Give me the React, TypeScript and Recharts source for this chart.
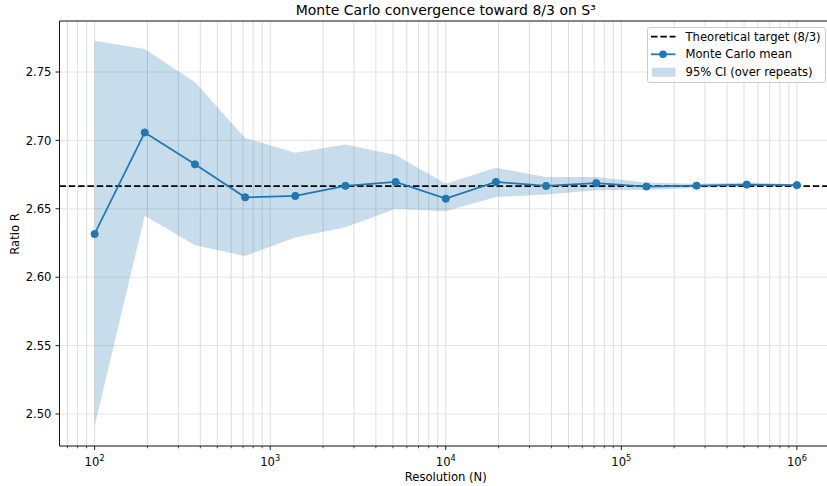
import React from 'react';
import { ComposedChart, Line, Area, XAxis, YAxis, CartesianGrid, ReferenceLine } from 'recharts';

// Resolutions N (log-spaced, 15 values)
const resolutions = [100, 193, 373, 720, 1389, 2683, 5179, 10000, 19307, 37276, 71969, 138950, 268270, 517947, 1000000];
// Monte Carlo mean ratio R
const meanRatio = [2.6316, 2.7058, 2.6825, 2.6584, 2.6594, 2.6668, 2.6696, 2.6574, 2.6696, 2.6667, 2.6688, 2.6663, 2.6669, 2.6677, 2.6673];
// 95% CI bounds (over repeats)
const ciLow = [2.491, 2.645, 2.6233, 2.6155, 2.629, 2.6365, 2.65, 2.6482, 2.6586, 2.6605, 2.6635, 2.6638, 2.6654, 2.666, 2.6665];
const ciHigh = [2.7728, 2.7668, 2.7425, 2.7018, 2.691, 2.697, 2.6893, 2.6684, 2.68, 2.6732, 2.6733, 2.6692, 2.6684, 2.6692, 2.668];

const target = 8 / 3;

const yTicks = [2.5, 2.55, 2.6, 2.65, 2.7, 2.75];
const xMajorTicks = [100, 1000, 10000, 100000, 1000000];
const xMinorTicks = [
  70, 80, 90,
  200, 300, 400, 500, 600, 700, 800, 900,
  2000, 3000, 4000, 5000, 6000, 7000, 8000, 9000,
  20000, 30000, 40000, 50000, 60000, 70000, 80000, 90000,
  200000, 300000, 400000, 500000, 600000, 700000, 800000, 900000,
];
const xTicks = [...xMajorTicks, ...xMinorTicks].sort((a, b) => a - b);
const xDomain = [Math.pow(10, 1.8), Math.pow(10, 6.2)];
const yDomain = [2.4766, 2.7873];

const data = resolutions.map((n, i) => ({
  n,
  mean: meanRatio[i],
  ci: [ciLow[i], ciHigh[i]],
}));

const FONT = 'DejaVu Sans, Verdana, sans-serif';
const BLUE = '#1f77b4';

const XTick = (props: any) => {
  const { x, y, payload } = props;
  const v = payload.value as number;
  const exp = Math.round(Math.log10(v));
  const major = Math.abs(Math.pow(10, exp) - v) < 1e-6 * v;
  return (
    <g>
      <line x1={x} x2={x} y1={y} y2={y + (major ? 4 : 2.3)} stroke="#000" strokeWidth={major ? 0.9 : 0.7} />
      {major && (
        <text x={x} y={y + 20} textAnchor="middle" fontSize={11.6} fontFamily={FONT} fill="#000">
          10
          <tspan fontSize={8.2} dy={-5}>
            {exp}
          </tspan>
        </text>
      )}
    </g>
  );
};

export default function App() {
  return (
    <div style={{ position: 'absolute', left: 0, top: 0, width: 827, height: 486, overflow: 'hidden', background: '#fff' }}>
      <ComposedChart width={840} height={486} data={data} margin={{ top: 21, right: 8, bottom: 0, left: 0 }}>
        <CartesianGrid horizontal={false} stroke="#d4d4d4" strokeWidth={0.8} />
        <CartesianGrid vertical={false} stroke="#e4e4e4" strokeWidth={1} />
        <XAxis
          dataKey="n"
          type="number"
          scale="log"
          domain={xDomain}
          allowDataOverflow
          ticks={xTicks}
          interval={0}
          tick={<XTick />}
          tickLine={false}
          tickSize={0}
          tickMargin={0}
          height={40}
          axisLine={{ stroke: '#000', strokeWidth: 0.9 }}
        />
        <YAxis
          type="number"
          domain={yDomain}
          allowDataOverflow
          ticks={yTicks}
          interval={0}
          width={59.5}
          tickSize={4}
          tickMargin={4}
          tickFormatter={(v: number) => v.toFixed(2)}
          tick={{ fontSize: 11.6, fill: '#000', fontFamily: FONT }}
          tickLine={{ stroke: '#000', strokeWidth: 0.9 }}
          axisLine={{ stroke: '#000', strokeWidth: 0.9 }}
        />
        <ReferenceLine y={yDomain[1]} stroke="#000" strokeWidth={0.9} />
        <Area
          dataKey="ci"
          type="linear"
          stroke="none"
          fill={BLUE}
          fillOpacity={0.25}
          isAnimationActive={false}
          dot={false}
          activeDot={false}
        />
        <ReferenceLine y={target} stroke="#000" strokeWidth={1.75} strokeDasharray="6.5 2.8" />
        <Line
          dataKey="mean"
          type="linear"
          stroke={BLUE}
          strokeWidth={1.75}
          dot={{ r: 3.6, fill: BLUE, stroke: BLUE, strokeWidth: 1 }}
          activeDot={false}
          isAnimationActive={false}
        />
      </ComposedChart>

      <div style={{ position: 'absolute', left: 59.5, width: 772.5, top: 1, textAlign: 'center', fontFamily: FONT, fontSize: 14, lineHeight: '18px', color: '#000' }}>
        Monte Carlo convergence toward 8/3 on S³
      </div>
      <div style={{ position: 'absolute', left: 59.5, width: 772.5, top: 469, textAlign: 'center', fontFamily: FONT, fontSize: 11.6, lineHeight: '16px', color: '#000' }}>
        Resolution (N)
      </div>
      <div style={{ position: 'absolute', left: 15 - 40, top: 233.5 - 8, width: 80, height: 16, textAlign: 'center', fontFamily: FONT, fontSize: 11.6, lineHeight: '16px', color: '#000', transform: 'rotate(-90deg)' }}>
        Ratio R
      </div>

      <div style={{ position: 'absolute', left: 646.5, top: 27, width: 179, height: 56, boxSizing: 'border-box', border: '1px solid #cccccc', borderRadius: 3, background: 'rgba(255,255,255,0.8)', fontFamily: FONT, fontSize: 11.6, color: '#000' }}>
        <svg width={179} height={56} style={{ position: 'absolute', left: -1, top: -1 }}>
          <line x1={4} x2={28.5} y1={9.7} y2={9.7} stroke="#000" strokeWidth={1.75} strokeDasharray="6.5 2.8" />
          <line x1={4} x2={28.5} y1={27.3} y2={27.3} stroke={BLUE} strokeWidth={1.75} />
          <circle cx={16} cy={27.3} r={3.8} fill={BLUE} />
          <rect x={5} y={40.7} width={23.5} height={9} fill={BLUE} fillOpacity={0.25} />
          <text x={38.5} y={9.7} dy="0.36em" fontSize={11.6} fontFamily={FONT}>Theoretical target (8/3)</text>
          <text x={38.5} y={27.3} dy="0.36em" fontSize={11.6} fontFamily={FONT}>Monte Carlo mean</text>
          <text x={38.5} y={44.7} dy="0.36em" fontSize={11.6} fontFamily={FONT}>95% CI (over repeats)</text>
        </svg>
      </div>
    </div>
  );
}
